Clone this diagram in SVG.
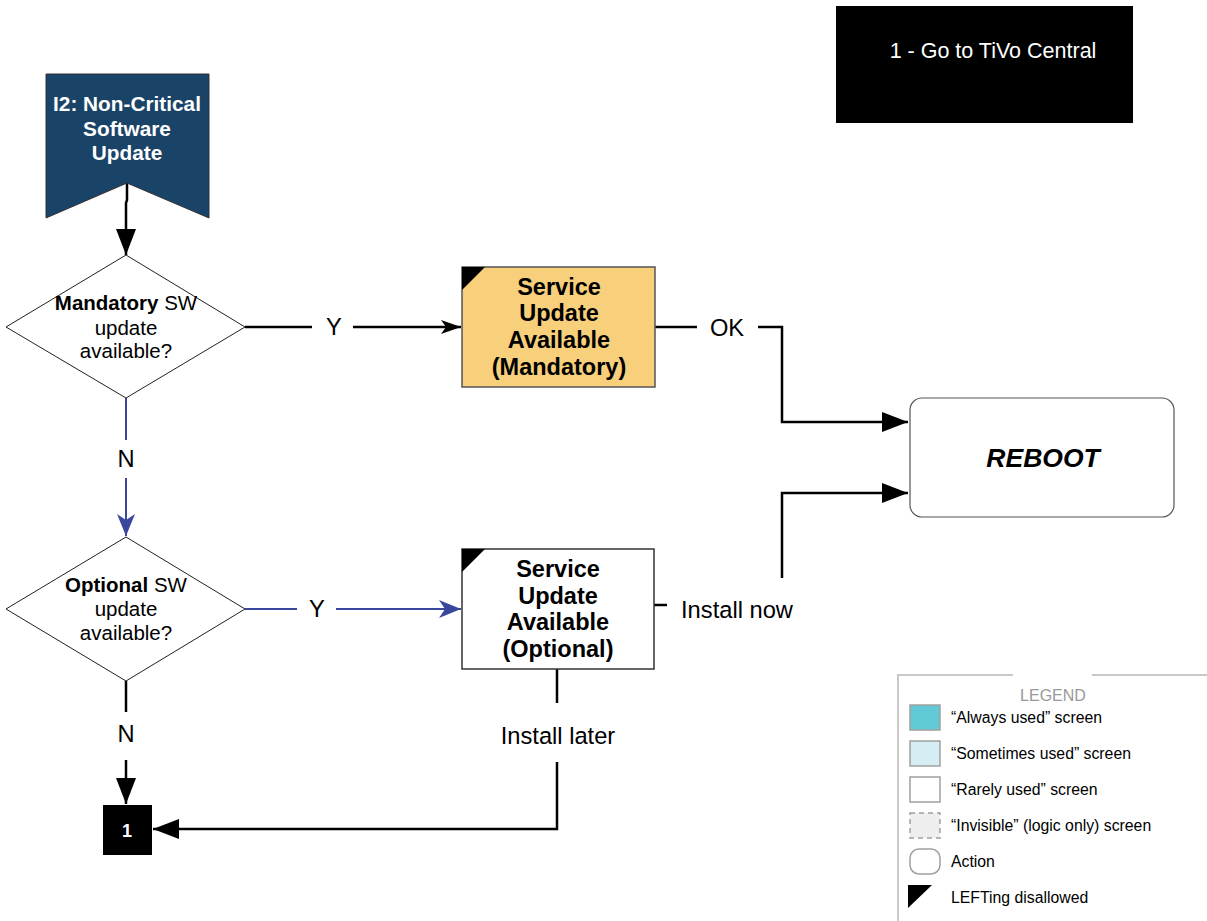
<svg xmlns="http://www.w3.org/2000/svg" width="1207" height="921" viewBox="0 0 1207 921">
<style>
text{font-family:"Liberation Sans",Arial,sans-serif;}
.b{font-weight:bold;}
.lbl{font-size:23.7px;fill:#000;text-anchor:middle;}
.dt{font-size:20.5px;fill:#000;text-anchor:middle;}
.bt{font-size:23.5px;font-weight:bold;fill:#000;text-anchor:middle;}
.k{stroke:#000;stroke-width:2.5;fill:none;}
.u{stroke:#3b479d;stroke-width:2;fill:none;}
.lg{font-size:15.8px;fill:#000;}
.sw{stroke:#a0a0a0;stroke-width:1.5;}
</style>
<defs>
<marker id="akb" markerWidth="26" markerHeight="20" refX="26" refY="10" orient="auto" markerUnits="userSpaceOnUse" viewBox="0 0 26 20">
<path d="M0,0 L26,10 L0,20 z" fill="#000"/>
</marker>
<marker id="au" markerWidth="22" markerHeight="18" refX="22" refY="9" orient="auto" markerUnits="userSpaceOnUse" viewBox="0 0 22 18">
<path d="M0,0 L22,9 L0,18 L6,9 z" fill="#3b479d"/>
</marker>
<marker id="ab" markerWidth="20" markerHeight="14" refX="20" refY="7" orient="auto" markerUnits="userSpaceOnUse" viewBox="0 0 20 14">
<path d="M0,0 L20,7 L0,14 L5,7 z" fill="#000"/>
</marker>
</defs>

<g id="connectors">
<path class="k" d="M127,183 L127,200 L126,203 L126,255" marker-end="url(#akb)"/>
<path class="k" d="M245,327 L312,327"/>
<path class="k" d="M353,327 L461,327" marker-end="url(#ab)"/>
<path class="k" d="M655,327 L697,327"/>
<path class="k" d="M758,327 L782,327 L782,422 L908,422" marker-end="url(#akb)"/>
<path class="k" d="M782,578 L782,493 L908,493" marker-end="url(#akb)"/>
<path class="u" d="M126,398 L126,440"/>
<path class="u" d="M126,478 L126,536" marker-end="url(#au)"/>
<path class="u" d="M245,609 L297,609"/>
<path class="u" d="M336,609 L461,609" marker-end="url(#au)"/>
<path class="k" d="M654,605 L667,605"/>
<path class="k" d="M557,669 L557,703"/>
<path class="k" d="M557,762 L557,829 L153,829" marker-end="url(#akb)"/>
<path class="k" d="M126,681 L126,712"/>
<path class="k" d="M126,760 L126,804" marker-end="url(#akb)"/>
<text class="lbl" x="334" y="335">Y</text>
<text class="lbl" x="727" y="336">OK</text>
<text class="lbl" x="126" y="467">N</text>
<text class="lbl" x="317" y="617">Y</text>
<text class="lbl" x="737" y="618">Install now</text>
<text class="lbl" x="558" y="744">Install later</text>
<text class="lbl" x="126" y="742">N</text>
</g>

<g id="start">
<path d="M46,74 L209,74 L209,218 L127,183 L46,218 z" fill="#1a4368" stroke="#333" stroke-width="1"/>
<text x="127" y="111" font-size="20.8" class="b" fill="#fff" text-anchor="middle">I2: Non-Critical</text>
<text x="127" y="136" font-size="20.8" class="b" fill="#fff" text-anchor="middle">Software</text>
<text x="127" y="160" font-size="20.8" class="b" fill="#fff" text-anchor="middle">Update</text>
</g>

<g id="dec-mandatory">
<path d="M126,255 L245,327 L126,398 L6,327 z" fill="#fff" stroke="#222" stroke-width="1"/>
<text class="dt" x="126" y="310"><tspan font-weight="bold">Mandatory</tspan> SW</text>
<text class="dt" x="126" y="335">update</text>
<text class="dt" x="126" y="358">available?</text>
</g>

<g id="dec-optional">
<path d="M126,537 L245,609 L126,681 L6,609 z" fill="#fff" stroke="#222" stroke-width="1"/>
<text class="dt" x="126" y="592"><tspan font-weight="bold">Optional</tspan> SW</text>
<text class="dt" x="126" y="616">update</text>
<text class="dt" x="126" y="640">available?</text>
</g>

<g id="svc-mandatory">
<rect x="462" y="267" width="193" height="120" fill="#f8cf7b" stroke="#555" stroke-width="1.5"/>
<path d="M462,267 L485,267 L462,290 z" fill="#000"/>
<text class="bt" x="559" y="295">Service</text>
<text class="bt" x="559" y="321">Update</text>
<text class="bt" x="559" y="348">Available</text>
<text class="bt" x="559" y="375">(Mandatory)</text>
</g>

<g id="svc-optional">
<rect x="462" y="549" width="192" height="120" fill="#fff" stroke="#333" stroke-width="1.5"/>
<path d="M462,549 L485,549 L462,572 z" fill="#000"/>
<text class="bt" x="558" y="577">Service</text>
<text class="bt" x="558" y="604">Update</text>
<text class="bt" x="558" y="630">Available</text>
<text class="bt" x="558" y="657">(Optional)</text>
</g>

<g id="reboot">
<rect x="910" y="398" width="264" height="119" rx="12" fill="#fff" stroke="#555" stroke-width="1.2"/>
<text x="1043" y="467" font-size="26.5" font-weight="bold" font-style="italic" text-anchor="middle" fill="#000">REBOOT</text>
</g>

<g id="goto1">
<rect x="103" y="805" width="49" height="50" fill="#000"/>
<text x="127" y="837" font-size="18" font-weight="bold" fill="#fff" text-anchor="middle">1</text>
</g>

<g id="note">
<rect x="836" y="6" width="297" height="117" fill="#000"/>
<text x="993" y="58" font-size="21.5" fill="#fff" text-anchor="middle">1 - Go to TiVo Central</text>
</g>

<g id="legend">
<path d="M1013,675 L898,675 L898,921 M1092,675 L1207,675" fill="none" stroke="#c8c8c8" stroke-width="2"/>
<text x="1053" y="701" font-size="16" fill="#999" text-anchor="middle">LEGEND</text>
<rect class="sw" x="910" y="705" width="30" height="25" fill="#62c9d6"/>
<text class="lg" x="951" y="723">“Always used” screen</text>
<rect class="sw" x="910" y="741" width="30" height="25" fill="#d5eef3"/>
<text class="lg" x="951" y="759">“Sometimes used” screen</text>
<rect class="sw" x="910" y="777" width="30" height="25" fill="#fff"/>
<text class="lg" x="951" y="795">“Rarely used” screen</text>
<rect class="sw" x="910" y="813" width="30" height="25" fill="#eeeeee" stroke-dasharray="5,4"/>
<text class="lg" x="951" y="831">“Invisible” (logic only) screen</text>
<rect class="sw" x="910" y="849" width="30" height="25" rx="9" fill="#fff"/>
<text class="lg" x="951" y="867">Action</text>
<path d="M908,885 L932,885 L908,908 z" fill="#000"/>
<text class="lg" x="951" y="903">LEFTing disallowed</text>
</g>
</svg>
